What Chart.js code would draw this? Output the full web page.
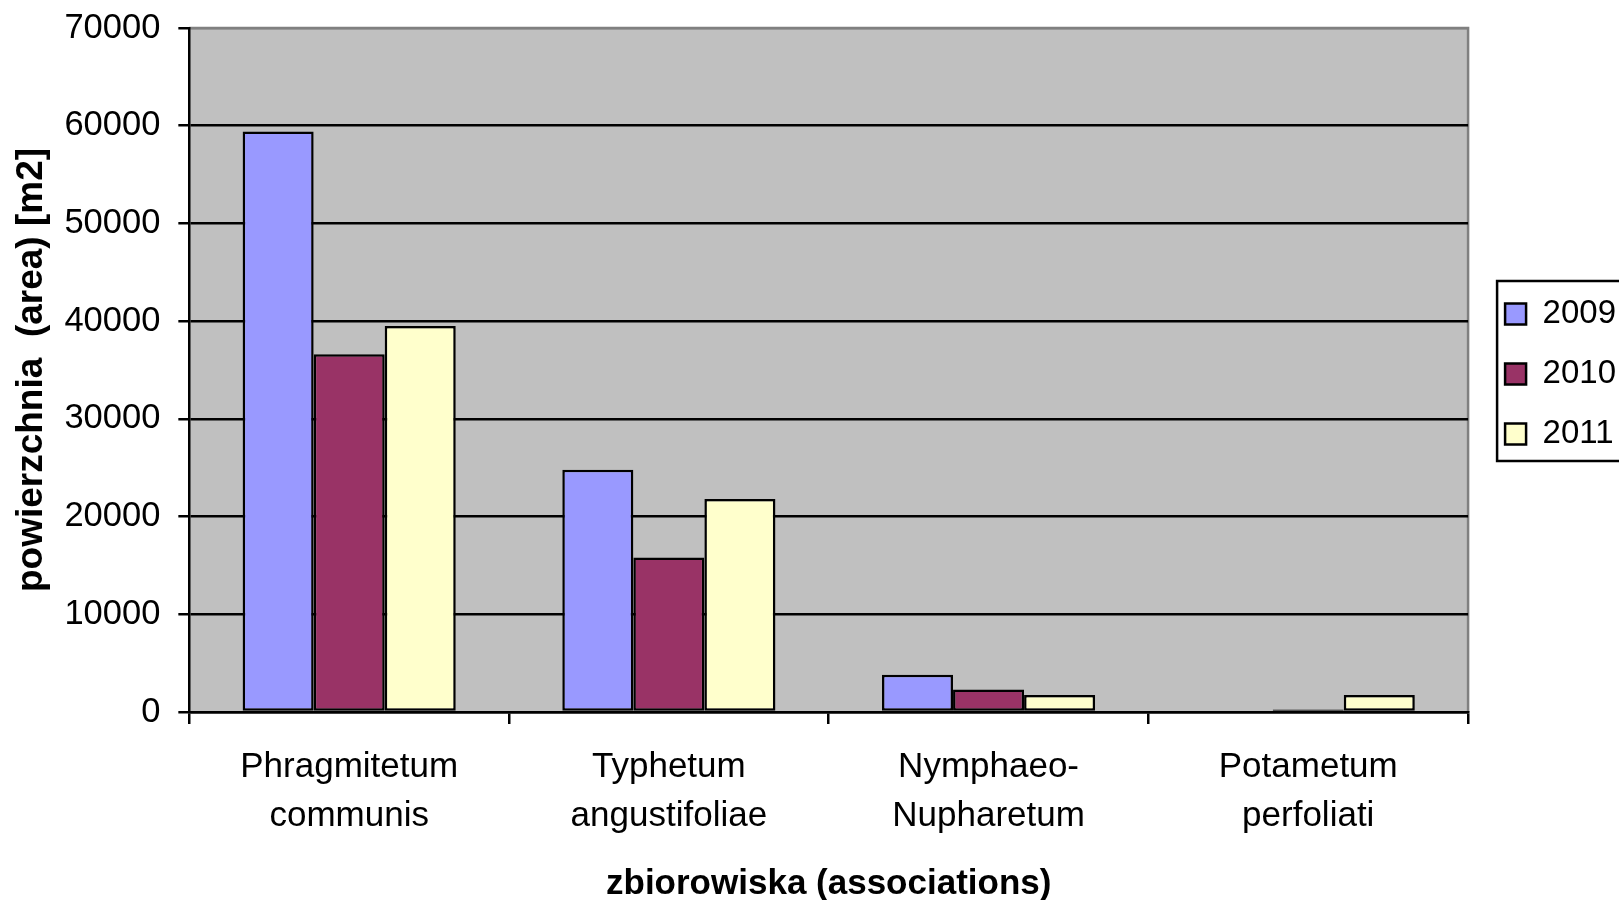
<!DOCTYPE html>
<html>
<head>
<meta charset="utf-8">
<script src="https://cdn.jsdelivr.net/npm/chart.js@4/dist/chart.umd.min.js"></script>
<style>
  html, body { margin: 0; padding: 0; background: #ffffff; overflow: hidden; }
  #wrap { width: 1619px; height: 900px; }
</style>
</head>
<body>
<div id="wrap"><canvas id="chart" width="1619" height="900"></canvas></div>
<script>
// Plant associations (two-line category labels)
const categories = [
  ['Phragmitetum', 'communis'],
  ['Typhetum', 'angustifoliae'],
  ['Nymphaeo-', 'Nupharetum'],
  ['Potametum', 'perfoliati']
];
// Area per year [m2]
const years = ['2009', '2010', '2011'];
const area2009 = [59400, 24800, 3800, 0];
const area2010 = [36600, 15800, 2300, 250];
const area2011 = [39500, 21800, 1750, 1750];
const yTicks = [0, 10000, 20000, 30000, 40000, 50000, 60000, 70000];

const FONT = "'Liberation Sans', Arial, sans-serif";
const colors = ['#9999FF', '#993366', '#FFFFCC'];
const series = [area2009, area2010, area2011];
const LINE = 2.5;

// Gray plot background with a gray frame on top and right
const plotBackground = {
  id: 'plotBackground',
  beforeDraw(chart) {
    const {ctx, chartArea: a} = chart;
    ctx.save();
    ctx.fillStyle = '#C0C0C0';
    ctx.fillRect(a.left, a.top, a.right - a.left, a.bottom - a.top);
    ctx.strokeStyle = '#808080';
    ctx.lineWidth = LINE;
    ctx.beginPath();
    ctx.moveTo(a.left, a.top);
    ctx.lineTo(a.right, a.top);
    ctx.lineTo(a.right, a.bottom);
    ctx.stroke();
    ctx.restore();
  }
};

// Legend sits a little right of the plot and gets a black frame
const LEG_PAD = 27, LEG_FONT = 33, LEG_BOX = 21;
const legendFrame = {
  id: 'legendFrame',
  afterLayout(chart) {
    const lg = chart.legend;
    lg.left += 10;
    lg.right += 10;
    lg.top += 4;
    lg.bottom += 4;
  },
  afterDraw(chart) {
    const lg = chart.legend;
    const itemH = Math.max(LEG_FONT, LEG_BOX);
    const step = itemH + LEG_PAD;
    const colH = years.length * step;
    const y0 = (lg.top + LEG_PAD + lg.bottom - colH) / 2;
    const c0 = y0 + itemH / 2;
    const top = c0 - 33;
    const bottom = c0 + (years.length - 1) * step + 27;
    const left = lg.left + LEG_PAD - 8;
    const ctx = chart.ctx;
    ctx.save();
    ctx.strokeStyle = '#000000';
    ctx.lineWidth = LINE;
    ctx.strokeRect(left, top, 200, bottom - top);
    ctx.restore();
  }
};

new Chart(document.getElementById('chart'), {
  type: 'bar',
  data: {
    labels: categories,
    datasets: years.map((y, i) => ({
      label: y,
      data: series[i],
      backgroundColor: colors[i],
      borderColor: '#000000',
      borderWidth: LINE,
      borderSkipped: false,
      categoryPercentage: 3 / 4.5,
      barPercentage: 1.0
    }))
  },
  options: {
    responsive: false,
    devicePixelRatio: 1,
    animation: false,
    layout: { padding: { left: 0, top: 0, right: 3, bottom: 0 } },
    plugins: {
      legend: {
        position: 'right',
        fullSize: false,
        labels: {
          color: '#000000',
          font: { family: FONT, size: LEG_FONT },
          boxWidth: LEG_BOX,
          boxHeight: LEG_BOX,
          padding: LEG_PAD
        }
      },
      tooltip: { enabled: false }
    },
    scales: {
      x: {
        grid: {
          offset: true,
          drawOnChartArea: false,
          drawTicks: true,
          tickLength: 12,
          color: '#000000',
          lineWidth: LINE
        },
        border: { display: true, color: '#000000', width: LINE },
        ticks: {
          color: '#000000',
          font: { family: FONT, size: 35, lineHeight: 1.4 },
          padding: 19,
          maxRotation: 0,
          autoSkip: false
        },
        title: {
          display: true,
          text: 'zbiorowiska (associations)',
          color: '#000000',
          font: { family: FONT, size: 35, weight: 'bold' },
          padding: { top: 3, bottom: -5 }
        }
      },
      y: {
        min: 0,
        max: 70000,
        afterBuildTicks(scale) {
          scale.ticks = yTicks.map(v => ({ value: v }));
        },
        afterFit(scale) {
          // room above the plot for the top tick label only
          scale.paddingTop = 28;
        },
        grid: {
          color: ctx => (ctx.tick && ctx.tick.value === 70000) ? '#808080' : '#000000',
          tickColor: '#000000',
          lineWidth: LINE,
          tickLength: 11,
          drawTicks: true
        },
        border: { display: true, color: '#000000', width: LINE },
        ticks: {
          color: '#000000',
          font: { family: FONT, size: 34.5 },
          padding: 18,
          callback: v => String(v)
        },
        title: {
          display: true,
          text: 'powierzchnia  (area) [m2]',
          color: '#000000',
          font: { family: FONT, size: 37, weight: 'bold' },
          padding: { top: 10, bottom: -8 }
        }
      }
    }
  },
  plugins: [plotBackground, legendFrame]
});
</script>
</body>
</html>
